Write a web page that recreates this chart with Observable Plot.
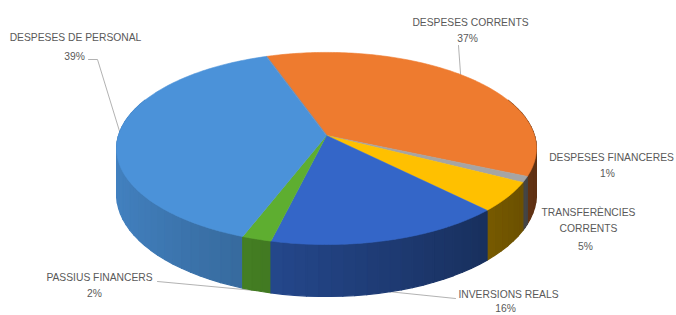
<!DOCTYPE html>
<html><head><meta charset="utf-8">
<script src="https://cdn.jsdelivr.net/npm/d3@7"></script>
<script src="https://cdn.jsdelivr.net/npm/@observablehq/plot@0.6"></script>
<style>body{margin:0;background:#fff;}</style>
</head><body><div id="chart"></div>
<script>
// ---- data ----
const categories = ["DESPESES CORRENTS","DESPESES FINANCERES","TRANSFERÈNCIES CORRENTS","INVERSIONS REALS","PASSIUS FINANCERS","DESPESES DE PERSONAL"];
const percents = [37, 1, 5, 16, 2, 39];
const palette = ["#EE7B2F","#A5A5A5","#FFC000","#3466C8","#5EAE30","#4B92D9"];

// ---- layout (not data) ----
const W = 676, H = 315;
const view = {x0: 326, y0: 135, a: 208, b: 94.3, p: 0.135, depth: 45, start: -19};
const labelLayout = [
  {lines: [[470, 22], [467, 38]], at: 0.48, h: 0, path: [[458, 45]]},
  {lines: [[611, 157], [607, 173]], at: null},
  {lines: [[588, 212], [588, 228], [585, 246]], wrap: true, at: null},
  {lines: [[508, 294], [505, 308]], at: 0.5, h: 1, path: [[455, 298]]},
  {lines: [[99, 277], [94, 293]], at: 0.5, h: 1, path: [[157, 281]]},
  {lines: [[75, 37], [74, 56]], at: 0.51, h: 0, path: [[88, 59], [97, 59]]}
];

function proj(angle, h) {
  const u = Math.sin(angle), v = -Math.cos(angle), w = 1 / (1 - view.p * v);
  return [view.x0 + view.a * u * w, view.y0 + view.b * v * w + h * view.depth * w];
}
const s0 = view.start * Math.PI / 180;
const arcs = d3.pie().sort(null).startAngle(s0).endAngle(s0 + 2 * Math.PI)(percents);

// sides
let sides = [];
arcs.forEach((arc, i) => {
  const span = arc.endAngle - arc.startAngle;
  const n = Math.max(1, Math.ceil(span / (Math.PI / 60)));
  for (let k = 0; k < n; k++) {
    const t0 = arc.startAngle + span * k / n, t1 = arc.startAngle + span * (k + 1) / n, tm = (t0 + t1) / 2;
    const v = -Math.cos(tm);
    if (v < -0.4) continue;
    const f = 0.64 - 0.25 * Math.sin(tm);
    const c = d3.rgb(palette[i]);
    const col = d3.rgb(c.r * f, c.g * f, c.b * f).formatHex();
    const id = `s${i}-${k}`;
    const quad = [[t0, 0], [t1, 0], [t1, 1], [t0, 1]].map(([t, h]) => { const [x, y] = proj(t, h); return {id, x, y, fill: col, order: v}; });
    sides.push(quad);
  }
});
sides.sort((A, B) => A[0].order - B[0].order);
sides = sides.flat();

// tops
const tops = [];
arcs.forEach((arc, i) => {
  const id = "t" + i;
  tops.push({id, x: view.x0, y: view.y0, fill: palette[i]});
  const span = arc.endAngle - arc.startAngle;
  const n = Math.max(2, Math.ceil(span / (Math.PI / 180)));
  for (let k = 0; k <= n; k++) {
    const [x, y] = proj(arc.startAngle + span * k / n, 0);
    tops.push({id, x, y, fill: palette[i]});
  }
});

// shadow outline (bottom face)
const shadow = d3.range(0, 361, 3).map(d => { const [x, y] = proj(d * Math.PI / 180, 1.04); return {x: x + 2, y: y + 2}; });

// labels and leaders
const texts = [], leaders = [];
arcs.forEach((arc, i) => {
  const L = labelLayout[i];
  const words = L.wrap ? categories[i].split(" ") : [categories[i]];
  const strs = [...words, percents[i] + "%"];
  strs.forEach((s, j) => texts.push({text: s, x: L.lines[j][0], y: L.lines[j][1]}));
  if (L.at != null) {
    const a = arc.startAngle + (arc.endAngle - arc.startAngle) * L.at;
    const [x, y] = proj(a, L.h);
    L.path.forEach(([px, py]) => leaders.push({id: i, x: px, y: py}));
    leaders.push({id: i, x, y});
  }
});

const chart = Plot.plot({
  width: W, height: H, margin: 0,
  x: {domain: [0, W], range: [0, W], axis: null},
  y: {domain: [0, H], range: [0, H], axis: null},
  color: {type: "identity"},
  style: {background: "#fff", fontFamily: "'Liberation Sans', Arial, sans-serif"},
  marks: [
    Plot.line(shadow, {x: "x", y: "y", fill: "#000", fillOpacity: 0.2, stroke: "none", curve: "linear-closed", ariaLabel: "shadow"}),
    Plot.line(leaders, {x: "x", y: "y", z: "id", stroke: "#a9a9a9", strokeWidth: 0.9}),
    Plot.line(sides, {x: "x", y: "y", z: "id", fill: "fill", stroke: "fill", strokeWidth: 1.2, curve: "linear-closed"}),
    Plot.line(tops, {x: "x", y: "y", z: "id", fill: "fill", stroke: "fill", strokeWidth: 0.6, curve: "linear-closed"}),
    Plot.text(texts, {x: "x", y: "y", text: "text", fill: "#595959", fontSize: 10.3, textAnchor: "middle", lineAnchor: "middle"})
  ]
});
const ns = "http://www.w3.org/2000/svg";
const defs = document.createElementNS(ns, "defs");
defs.innerHTML = '<filter id="blurShadow" x="-20%" y="-20%" width="140%" height="140%"><feGaussianBlur stdDeviation="4"/></filter>';
chart.insertBefore(defs, chart.firstChild);
const sh = chart.querySelector('g[aria-label="shadow"]');
if (sh) sh.setAttribute("filter", "url(#blurShadow)");
document.getElementById("chart").appendChild(chart);
</script>
</body></html>
